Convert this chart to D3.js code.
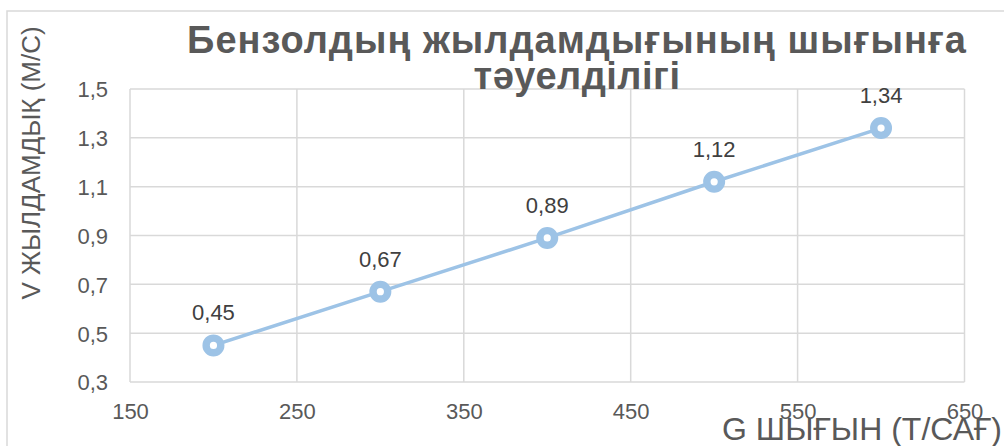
<!DOCTYPE html>
<html><head><meta charset="utf-8">
<script src="https://cdn.jsdelivr.net/npm/d3@7"></script>
<style>
html,body{margin:0;padding:0;background:#fff;overflow:hidden;}
text{font-family:"Liberation Sans",Arial,sans-serif;}
</style></head>
<body>
<svg id="c" width="1004" height="446"></svg>
<script>
const xValues = [200, 300, 400, 500, 600];
const yValues = [0.45, 0.67, 0.89, 1.12, 1.34];
const xTicks = [150, 250, 350, 450, 550, 650];
const yTicks = [0.3, 0.5, 0.7, 0.9, 1.1, 1.3, 1.5];
const titleLines = ["Бензолдың жылдамдығының шығынға", "тәуелділігі"];
const xTitle = "G ШЫҒЫН (Т/САҒ)";
const yTitle = "V ЖЫЛДАМДЫҚ (М/С)";

const fmt = v => d3.format(".2~f")(v).replace(".", ",");
const fmtTick = v => d3.format(".1f")(v).replace(".", ",");

const svg = d3.select("#c");
svg.append("rect").attr("x",7).attr("y",11).attr("width",1200).attr("height",600)
  .attr("fill","#fff").attr("stroke","#d9d9d9").attr("stroke-width",1.5);

const x = d3.scaleLinear().domain([150,650]).range([130,964.5]);
const y = d3.scaleLinear().domain([0.3,1.5]).range([382,89]);

const grid = svg.append("g");
grid.selectAll(".gy").data(yTicks).join("line")
  .attr("x1",x(150)).attr("x2",x(650)).attr("y1",d=>y(d)).attr("y2",d=>y(d))
  .attr("stroke","#d9d9d9").attr("stroke-width",1.5);
grid.selectAll(".gx").data(xTicks).join("line")
  .attr("y1",y(0.3)).attr("y2",y(1.5)).attr("x1",d=>x(d)).attr("x2",d=>x(d))
  .attr("stroke","#d9d9d9").attr("stroke-width",1.5);

const xAxis = d3.axisBottom(x).tickValues(xTicks).tickSize(0).tickPadding(0).tickFormat(d=>d);
const gx = svg.append("g").attr("transform",`translate(0,${y(0.3)})`).call(xAxis);
gx.select(".domain").remove();
gx.selectAll("text").attr("dy",null).attr("y",37).attr("font-size",22).attr("fill","#595959")
  .attr("font-family","Liberation Sans, Arial, sans-serif");

const yAxis = d3.axisLeft(y).tickValues(yTicks).tickSize(0).tickPadding(0).tickFormat(fmtTick);
const gy = svg.append("g").attr("transform",`translate(108,0)`).call(yAxis);
gy.select(".domain").remove();
gy.selectAll("text").attr("x",0).attr("dy","0.36em").attr("font-size",22).attr("fill","#595959")
  .attr("font-family","Liberation Sans, Arial, sans-serif");

const data = xValues.map((v,i)=>({x:v,y:yValues[i]}));
svg.append("path").datum(data)
  .attr("d", d3.line().x(d=>x(d.x)).y(d=>y(d.y)))
  .attr("fill","none").attr("stroke","#9dc3e6").attr("stroke-width",3.5);
svg.selectAll(".pt").data(data).join("circle")
  .attr("cx",d=>x(d.x)).attr("cy",d=>y(d.y)).attr("r",7.3)
  .attr("fill","#fff").attr("stroke","#9dc3e6").attr("stroke-width",7.4);
svg.selectAll(".lbl").data(data).join("text")
  .attr("x",d=>x(d.x)).attr("y",d=>y(d.y)-25).attr("text-anchor","middle")
  .attr("font-size",22).attr("fill","#404040").text(d=>fmt(d.y));

const t = svg.append("text").attr("text-anchor","middle").attr("font-weight","bold")
  .attr("font-size",38).attr("fill","#595959");
t.append("tspan").attr("x",577).attr("y",53).attr("letter-spacing",1).text(titleLines[0]);
t.append("tspan").attr("x",577).attr("y",89).attr("letter-spacing",0.5).text(titleLines[1]);

svg.append("text").attr("x",1002).attr("y",440).attr("text-anchor","end")
  .attr("font-size",32).attr("fill","#595959").text(xTitle);
svg.append("text").attr("transform","translate(40,163) rotate(-90)").attr("text-anchor","middle")
  .attr("font-size",26).attr("fill","#595959").text(yTitle);
</script>
</body></html>
